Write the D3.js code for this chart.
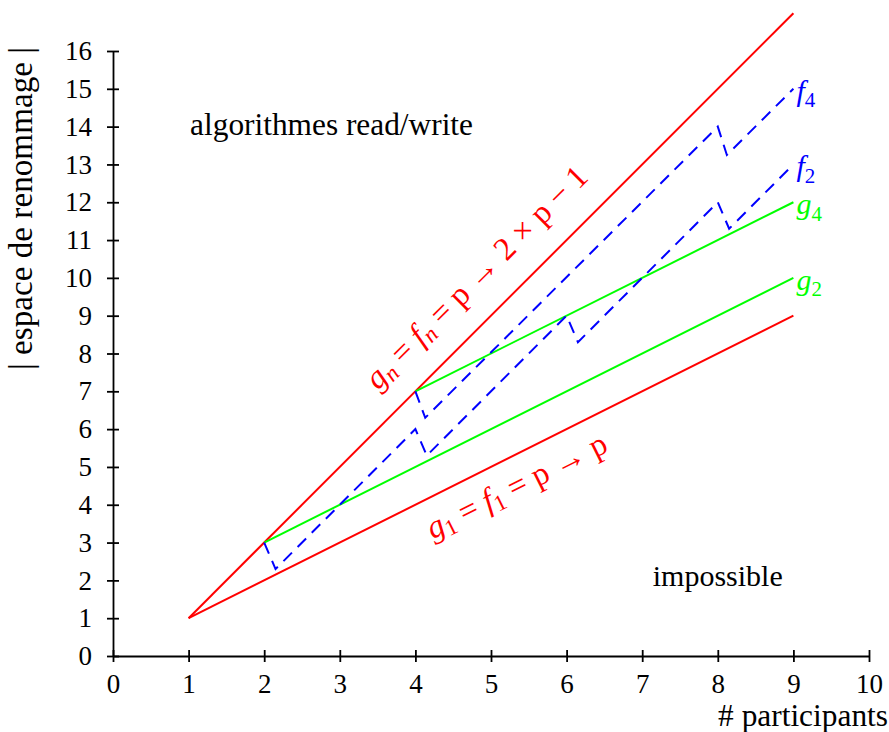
<!DOCTYPE html>
<html>
<head>
<meta charset="utf-8">
<script src="https://d3js.org/d3.v7.min.js"></script>
<style>
body { margin: 0; background: #fff; }
text { font-family: "Liberation Serif", "Times New Roman", serif; }
.axis path, .axis line { stroke: #000; stroke-width: 1.8px; }
.axis text { font-size: 27px; fill: #000; font-family: "Liberation Serif", serif; }
</style>
</head>
<body>
<svg width="889" height="732"></svg>
<script>
// data: renaming space versus number of participants
const xTicks = d3.range(0, 11);
const yTicks = d3.range(0, 17);

const redUpper = [[1, 1], [9, 17]];   // g_n = f_n : p -> 2p - 1
const redLower = [[1, 1], [9, 9]];    // g_1 = f_1 : p -> p
const g2 = [[2, 3], [9, 10]];
const g4 = [[4, 7], [9, 12]];
const f2 = [[2, 3], [2.15, 2.3], [4, 6], [4.15, 5.3], [6, 9], [6.15, 8.3], [8, 12], [8.15, 11.3], [9, 13]];
const f4 = [[4, 7], [4.13, 6.3], [8, 14], [8.12, 13.25], [9, 15]];

const series = [
  {name: 'redUpper', pts: redUpper, color: '#ff0000', dash: null},
  {name: 'redLower', pts: redLower, color: '#ff0000', dash: null},
  {name: 'g2', pts: g2, color: '#00ff00', dash: null},
  {name: 'g4', pts: g4, color: '#00ff00', dash: null},
  {name: 'f2', pts: f2, color: '#0000ff', dash: '12,8'},
  {name: 'f4', pts: f4, color: '#0000ff', dash: '12,8'}
];

const svg = d3.select('svg');
const x = d3.scaleLinear().domain([0, 10]).range([113, 869]);
const y = d3.scaleLinear().domain([0, 16]).range([656, 51]);

const xAxis = svg.append('g')
  .attr('class', 'axis')
  .attr('transform', `translate(0,${y(0)})`)
  .call(d3.axisBottom(x).tickValues(xTicks).tickSizeOuter(0).tickSizeInner(6).tickPadding(12));
xAxis.selectAll('.tick line').attr('y1', -6).attr('y2', 6);

const yAxis = svg.append('g')
  .attr('class', 'axis')
  .attr('transform', `translate(${x(0)},0)`)
  .call(d3.axisLeft(y).tickValues(yTicks).tickSizeOuter(0).tickSizeInner(6).tickPadding(15));
yAxis.selectAll('.tick line').attr('x1', -6).attr('x2', 6);

const line = d3.line().x(d => x(d[0])).y(d => y(d[1]));

svg.append('g').selectAll('path')
  .data(series)
  .join('path')
    .attr('d', d => line(d.pts))
    .attr('fill', 'none')
    .attr('stroke', d => d.color)
    .attr('stroke-width', 2)
    .attr('stroke-dasharray', d => d.dash);

// fit a text element to a target width
function fit(sel, width) {
  const len = sel.node().getComputedTextLength();
  const fs = parseFloat(sel.attr('font-size'));
  sel.attr('font-size', fs * width / len);
  return sel;
}

// math-style text: parts are [text, style]
function mathText(g, parts) {
  parts.forEach(([t, s]) => {
    const ts = g.append('tspan').text(t);
    if (s === 'i') ts.attr('font-style', 'italic');
    if (s === 's') ts.attr('font-size', '70%').attr('dy', '0.3em').attr('font-style', 'italic');
    if (s === 'sd') ts.attr('font-size', '70%').attr('dy', '0.3em');
    if (s === 'r') ts.attr('dy', '-0.21em');
  });
  return g;
}

// plain labels
fit(svg.append('text')
  .attr('x', x(1.02)).attr('y', y(13.78))
  .attr('font-size', 27)
  .text('algorithmes read/write'), 283);

fit(svg.append('text')
  .attr('x', x(7.14)).attr('y', y(1.85))
  .attr('font-size', 27)
  .text('impossible'), 130);

fit(svg.append('text')
  .attr('x', 888).attr('y', 726)
  .attr('text-anchor', 'end')
  .attr('font-size', 27)
  .text('# participants'), 170);

fit(svg.append('text')
  .attr('transform', `translate(32,${(47 + 370) / 2}) rotate(-90)`)
  .attr('text-anchor', 'middle')
  .attr('font-size', 27)
  .text('| espace de renommage |'), 323);

// rotated function labels, parallel to the red lines
const angUp = Math.atan2(y(0) - y(2), x(1) - x(0)) * 180 / Math.PI;
const angLo = Math.atan2(y(0) - y(1), x(1) - x(0)) * 180 / Math.PI;

fit(mathText(svg.append('text')
  .attr('transform', `translate(${x(4.84)},${y(9.95)}) rotate(${-angUp})`)
  .attr('text-anchor', 'middle')
  .attr('dominant-baseline', 'middle')
  .attr('font-size', 28)
  .attr('fill', '#ff0000'),
  [['g', 'i'], ['n', 's'], [' = ', 'r'], ['f', 'i'], ['n', 's'], [' = p → 2 × p − 1', 'r']]), 300);

fit(mathText(svg.append('text')
  .attr('transform', `translate(${x(5.36)},${y(4.42)}) rotate(${-angLo})`)
  .attr('text-anchor', 'middle')
  .attr('dominant-baseline', 'middle')
  .attr('font-size', 28)
  .attr('fill', '#ff0000'),
  [['g', 'i'], ['1', 'sd'], [' = ', 'r'], ['f', 'i'], ['1', 'sd'], [' = p → p', 'r']]), 198);

// end labels
const endLabels = [
  {pts: f4, letter: 'f', sub: '4', color: '#0000ff'},
  {pts: f2, letter: 'f', sub: '2', color: '#0000ff'},
  {pts: g4, letter: 'g', sub: '4', color: '#00ff00'},
  {pts: g2, letter: 'g', sub: '2', color: '#00ff00'}
];
endLabels.forEach(d => {
  const last = d.pts[d.pts.length - 1];
  mathText(svg.append('text')
    .attr('x', x(last[0]) + 3)
    .attr('y', y(last[1]) + 12)
    .attr('font-size', 30)
    .attr('fill', d.color),
    [[d.letter, 'i'], [d.sub, 'sd']]);
});
</script>
</body>
</html>
